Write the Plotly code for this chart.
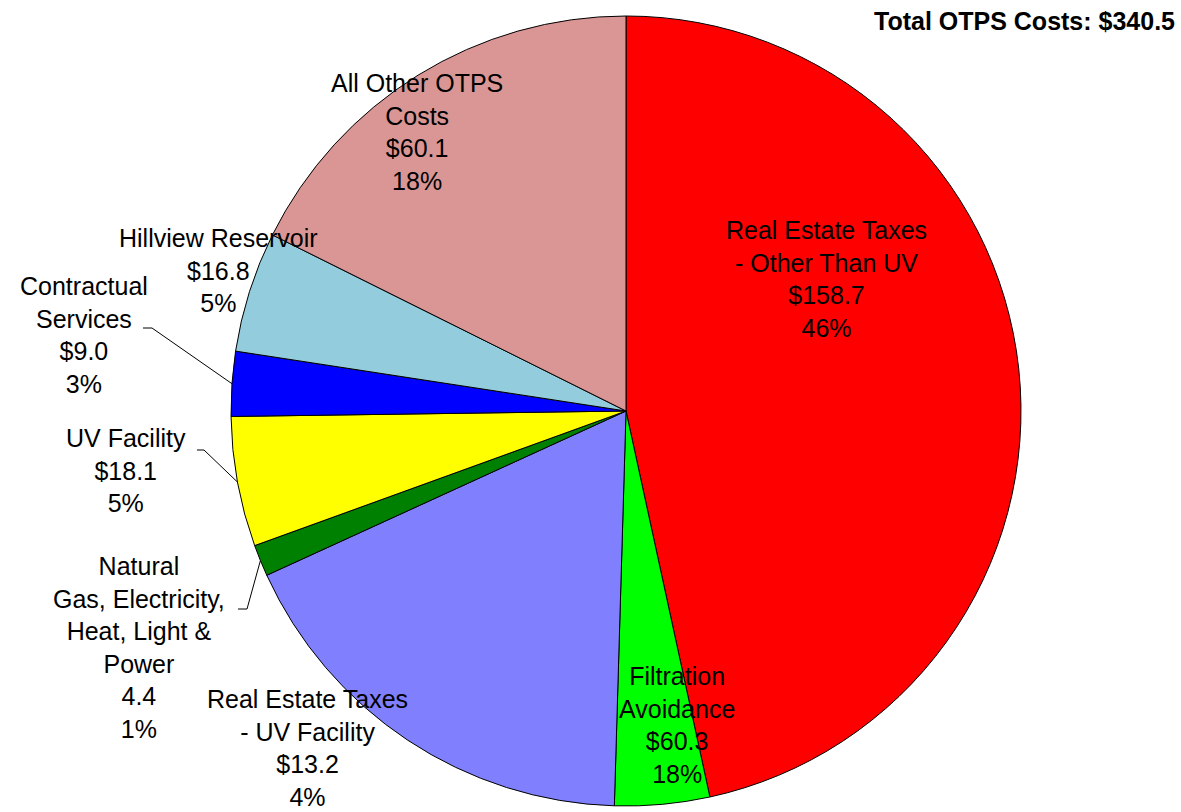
import math
import plotly.graph_objects as go

W, H = 1181, 812

# ---- data (slice order, clockwise from 12 o'clock) ----
categories = ["Real Estate Taxes - Other Than UV", "Filtration Avoidance",
              "Real Estate Taxes - UV Facility",
              "Natural Gas, Electricity, Heat, Light & Power", "UV Facility",
              "Contractual Services", "Hillview Reservoir", "All Other OTPS Costs"]
slice_values = [158.7, 13.2, 60.3, 4.4, 18.1, 9.0, 16.8, 60.1]
label_names = ["Real Estate Taxes<br>- Other Than UV", "Filtration<br>Avoidance",
               "Real Estate Taxes<br>- UV Facility",
               "Natural<br>Gas, Electricity,<br>Heat, Light &amp;<br>Power",
               "UV Facility", "Contractual<br>Services", "Hillview Reservoir",
               "All Other OTPS<br>Costs"]
label_values = ["$158.7", "$60.3", "$13.2", "4.4", "$18.1", "$9.0", "$16.8", "$60.1"]
label_pcts = ["46%", "18%", "4%", "1%", "5%", "3%", "5%", "18%"]
total_text = "Total OTPS Costs: $340.5"

colors = ["#FF0000", "#00FF00", "#8080FF", "#008000", "#FFFF00", "#0000FF",
          "#93CDDD", "#D99694"]

# ---- layout constants (pixels) ----
cx, cy, R = 626, 411, 395
label_pos = [(826, 279), (677, 725), (307, 748), (139, 647), (126, 470),
             (84, 335), (218, 270), (417, 132)]
# leader lines: index -> (start x, start y, elbow x)
leaders = {5: (143, 328, 152), 4: (197, 450, 204), 3: (238, 609, 247)}


def px(x):
    return x / W


def py(y):
    return 1 - y / H


fig = go.Figure(go.Pie(
    labels=categories,
    values=slice_values,
    sort=False,
    direction="clockwise",
    rotation=0,
    marker=dict(colors=colors, line=dict(color="black", width=1)),
    textinfo="none",
    showlegend=False,
    domain=dict(x=[px(cx - R), px(cx + R)], y=[py(cy + R), py(cy - R)]),
))

font = dict(family="Liberation Sans, Arial, sans-serif", size=25, color="black")
annotations = []
for (x, y), n, v, p in zip(label_pos, label_names, label_values, label_pcts):
    annotations.append(dict(
        x=px(x), y=py(y), xref="paper", yref="paper",
        text=f"{n}<br>{v}<br>{p}", showarrow=False,
        xanchor="center", yanchor="middle", align="center", font=font))

annotations.append(dict(
    x=px(1177), y=py(21), xref="paper", yref="paper", text=f"<b>{total_text}</b>",
    showarrow=False, xanchor="right", yanchor="middle",
    font=dict(family="Liberation Sans, Arial, sans-serif", size=25, color="black")))

# leader lines end at the mid-angle of each slice on the pie edge
total = sum(slice_values)
cum = 0
mids = []
for v in slice_values:
    mids.append((cum + v / 2) / total * 2 * math.pi)
    cum += v

shapes = []
for i, (sx, sy, ex) in leaders.items():
    a = mids[i]
    exx = cx + R * math.sin(a)
    eyy = cy - R * math.cos(a)
    path = f"M {px(sx)},{py(sy)} L {px(ex)},{py(sy)} L {px(exx)},{py(eyy)}"
    shapes.append(dict(type="path", path=path, xref="paper", yref="paper",
                       line=dict(color="black", width=1)))

fig.update_layout(
    width=W, height=H,
    margin=dict(l=0, r=0, t=0, b=0),
    paper_bgcolor="white", plot_bgcolor="white",
    annotations=annotations, shapes=shapes,
)

fig.write_html("out.html", config={"displayModeBar": False},
               post_script="document.body.style.margin='0';document.body.style.overflow='hidden';")
